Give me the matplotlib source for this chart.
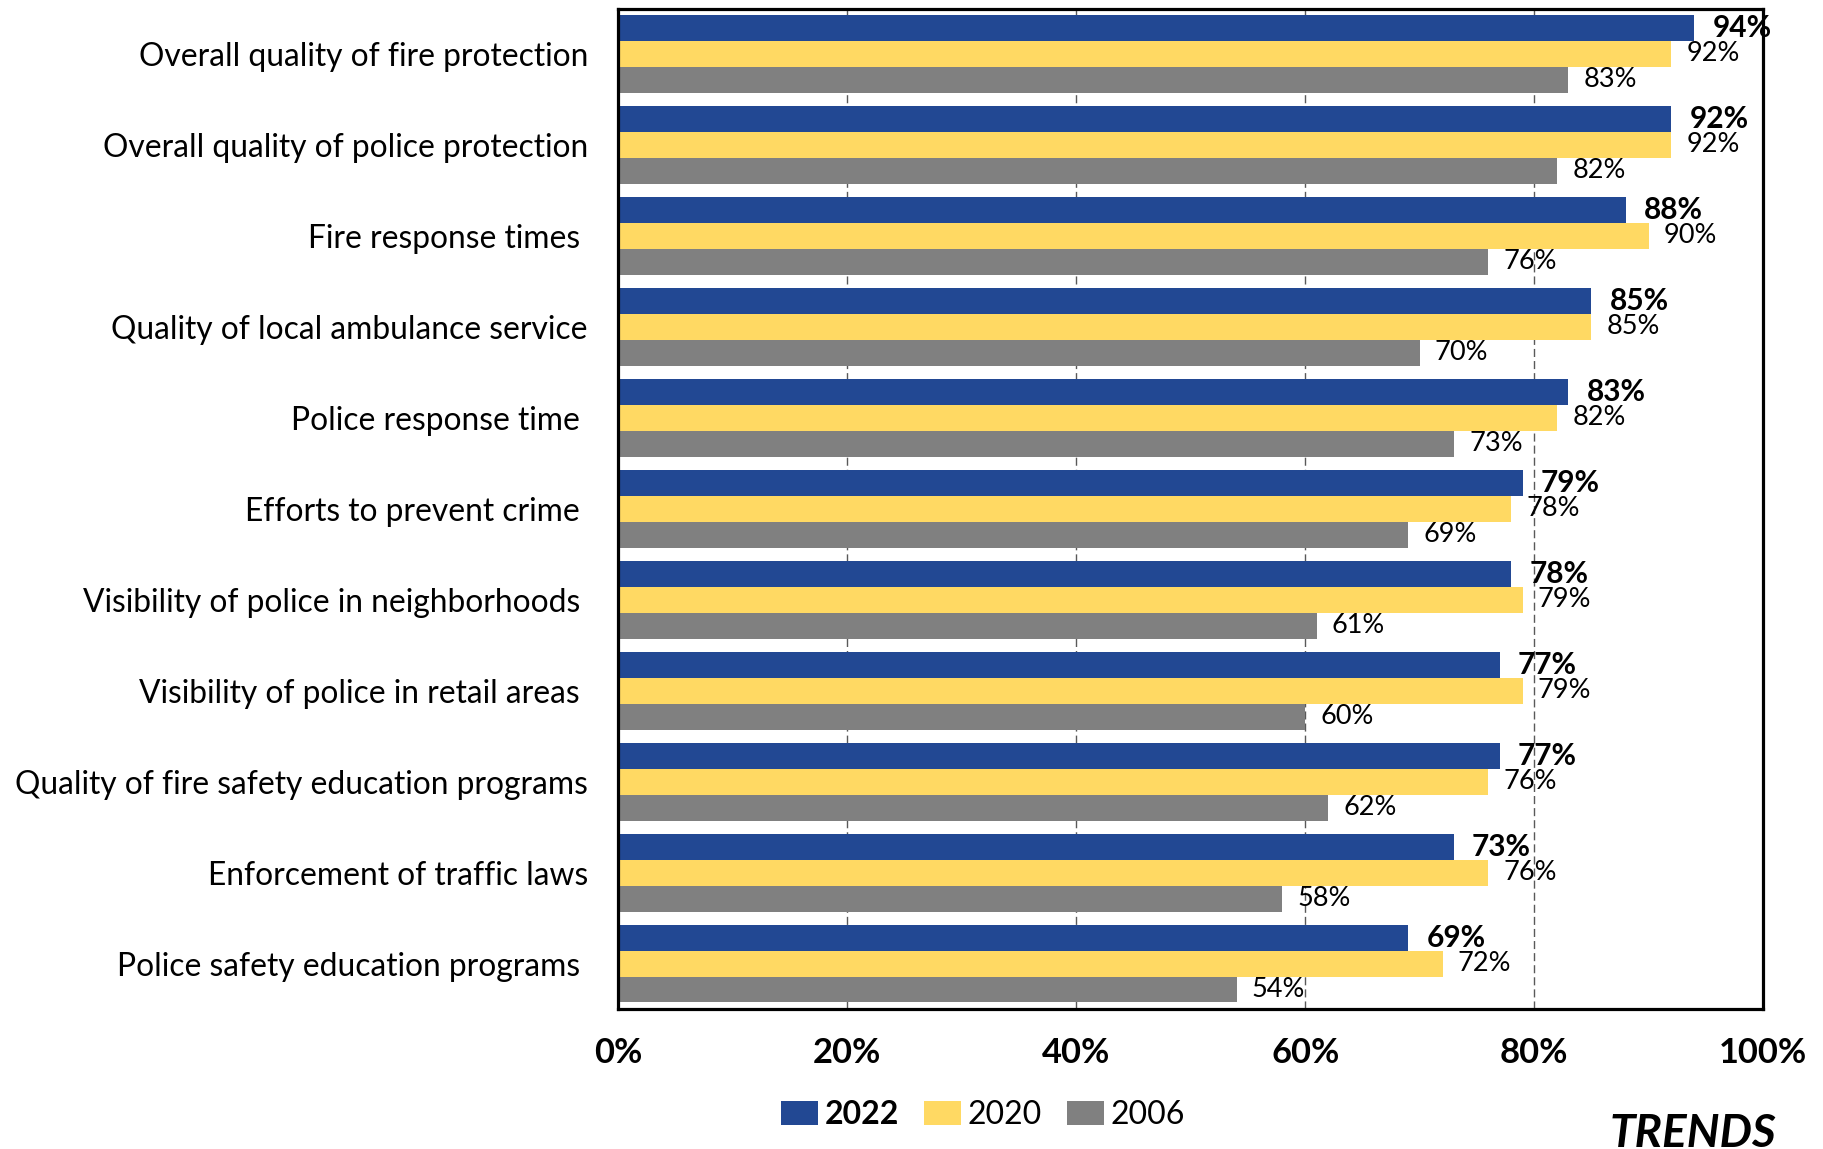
import matplotlib
matplotlib.use("Agg")
import matplotlib.pyplot as plt
import numpy as np

plt.rcParams['font.family'] = ['Lato', 'DejaVu Sans']

categories = [
    "Overall quality of fire protection",
    "Overall quality of police protection",
    "Fire response times ",
    "Quality of local ambulance service",
    "Police response time ",
    "Efforts to prevent crime ",
    "Visibility of police in neighborhoods ",
    "Visibility of police in retail areas ",
    "Quality of fire safety education programs",
    "Enforcement of traffic laws",
    "Police safety education programs ",
]
series_names = ["2022", "2020", "2006"]
values_2022 = [94, 92, 88, 85, 83, 79, 78, 77, 77, 73, 69]
values_2020 = [92, 92, 90, 85, 82, 78, 79, 79, 76, 76, 72]
values_2006 = [83, 82, 76, 70, 73, 69, 61, 60, 62, 58, 54]
x_ticks = [0, 20, 40, 60, 80, 100]
x_tick_labels = ["0%", "20%", "40%", "60%", "80%", "100%"]

colors = ["#224893", "#FFD963", "#808080"]

W, H = 1824, 1149
fig = plt.figure(figsize=(W / 100, H / 100), dpi=100)
ax = fig.add_axes([618.5 / W, 1 - 1009 / H, (1763 - 618.5) / W, (1009 - 8.5) / H])

y = np.arange(len(categories))
group_w = 0.857
bar_h = group_w / 3
all_values = [values_2022, values_2020, values_2006]

for i, (name, vals, col) in enumerate(zip(series_names, all_values, colors)):
    offs = (i - 1) * bar_h
    bars = ax.barh(y + offs, vals, height=bar_h, color=col, label=name, zorder=2)
    labels = [f"{v}%" for v in vals]
    if i == 0:
        ax.bar_label(bars, labels=labels, padding=13, fontsize=21.5,
                     fontweight='bold', color='black', zorder=4)
    else:
        ax.bar_label(bars, labels=labels, padding=11, fontsize=19.5,
                     color='black', zorder=4)

ax.set_xlim(0, 100)
ax.set_ylim(len(categories) - 0.5, -0.5)
ax.set_yticks(y)
ax.set_yticklabels(categories, fontsize=22.9)
ax.set_xticks(x_ticks)
ax.set_xticklabels(x_tick_labels, fontsize=24.8, fontweight='bold')
ax.tick_params(axis='both', length=0)
ax.tick_params(axis='y', pad=22)
ax.tick_params(axis='x', pad=20)

ax.xaxis.grid(True, color='#595959', linewidth=1.0, linestyle=(0, (5.8, 2.9)), zorder=1)
ax.set_axisbelow(True)
for sp in ax.spines.values():
    sp.set_linewidth(2.3)
    sp.set_color('black')

leg = fig.legend(loc='center', bbox_to_anchor=(983 / W, 1 - 1115.5 / H), ncol=3,
                 frameon=False, fontsize=23, handlelength=1.15, handleheight=0.78,
                 handletextpad=0.2, columnspacing=0.8, borderpad=0)
leg.get_texts()[0].set_fontweight('bold')

fig.text(1776 / W, 1 - 1147 / H, "TRENDS", ha='right', va='baseline',
         fontsize=33, fontweight='bold', fontstyle='italic')

fig.savefig("out.png", dpi=100)
